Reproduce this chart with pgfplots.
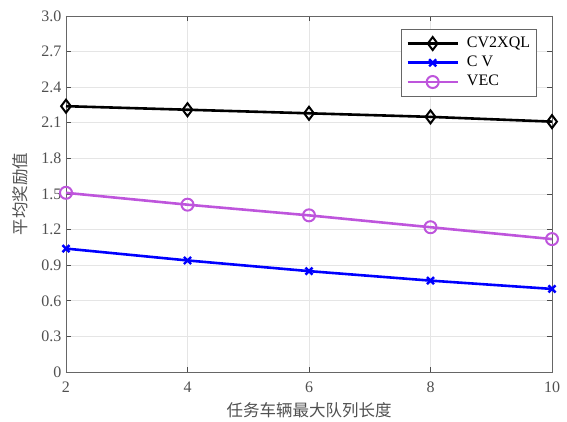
\documentclass[border=0pt]{standalone}
\usepackage{fontspec}
\setmainfont{Liberation Serif}
\newfontfamily\cjk{Noto Sans CJK SC}
\usepackage{pgfplots}
\pgfplotsset{compat=1.18}
\definecolor{vec}{RGB}{190,85,220}
\definecolor{txt}{RGB}{80,80,80}
\begin{document}
\begin{tikzpicture}
\begin{axis}[
  name=ax,
  scale only axis,
  width=486pt, height=356pt,
  xmin=2, xmax=10, ymin=0, ymax=3,
  xtick={2,4,6,8,10},
  ytick={0,0.3,...,3.01},
  yticklabels={0,0.3,0.6,0.9,1.2,1.5,1.8,2.1,2.4,2.7,3.0},
  /pgf/number format/assume math mode=true,
  tick label style={font=\fontsize{16}{18}\selectfont, text=txt},
  yticklabel style={xshift=-1pt},
  xticklabel style={yshift=-6pt},
  grid=major,
  grid style={black!10, line width=0.6pt},
  axis line style={black!60, line width=0.8pt},
  tick style={black!70, line width=0.8pt},
  major tick length=5pt,
  tick align=inside,
  xlabel={\cjk 任务车辆最大队列长度},
  ylabel={\cjk 平均奖励值},
  label style={font=\fontsize{16.5}{18}\selectfont, text=txt},
  xlabel style={at={(axis description cs:0.5,-0.1067)}, anchor=center},
  ylabel style={at={(axis description cs:-0.0947,0.5)}, anchor=center},
  legend style={at={(axis description cs:1,1)}, anchor=north east, xshift=-15pt, yshift=-13pt,
    font=\fontsize{16}{19}\selectfont, draw=black!60, line width=0.8pt, row sep=0pt, inner sep=4.5pt,
    nodes={inner ysep=1.75pt, text height=11.5pt, text depth=4.25pt}},
  legend cell align=left,
  legend image code/.code={
    \draw[#1] (0pt,0pt) -- (50pt,0pt);
    \draw[#1, only marks] plot coordinates {(25pt,0pt)};
    \path (56pt,0pt);
  },
]
\addplot[black, line width=2.6pt, mark=diamond, mark size=6.5pt, mark options={line width=2pt, fill=white}]
  coordinates {(2,2.24) (4,2.21) (6,2.18) (8,2.15) (10,2.11)};
\addlegendentry{CV2XQL}
\addplot[blue, line width=2.6pt, mark=x, mark size=5pt, mark options={line width=2.4pt}]
  coordinates {(2,1.04) (4,0.94) (6,0.85) (8,0.77) (10,0.70)};
\addlegendentry{C V}
\addplot[vec, line width=2.6pt, mark=o, mark size=6pt, mark options={line width=2pt, fill=white}]
  coordinates {(2,1.51) (4,1.41) (6,1.32) (8,1.22) (10,1.12)};
\addlegendentry{VEC}
\end{axis}
\pgfresetboundingbox
\path[use as bounding box] ([xshift=-66pt,yshift=-50pt]ax.south west) rectangle ([xshift=15pt,yshift=16pt]ax.north east);
\end{tikzpicture}
\end{document}
